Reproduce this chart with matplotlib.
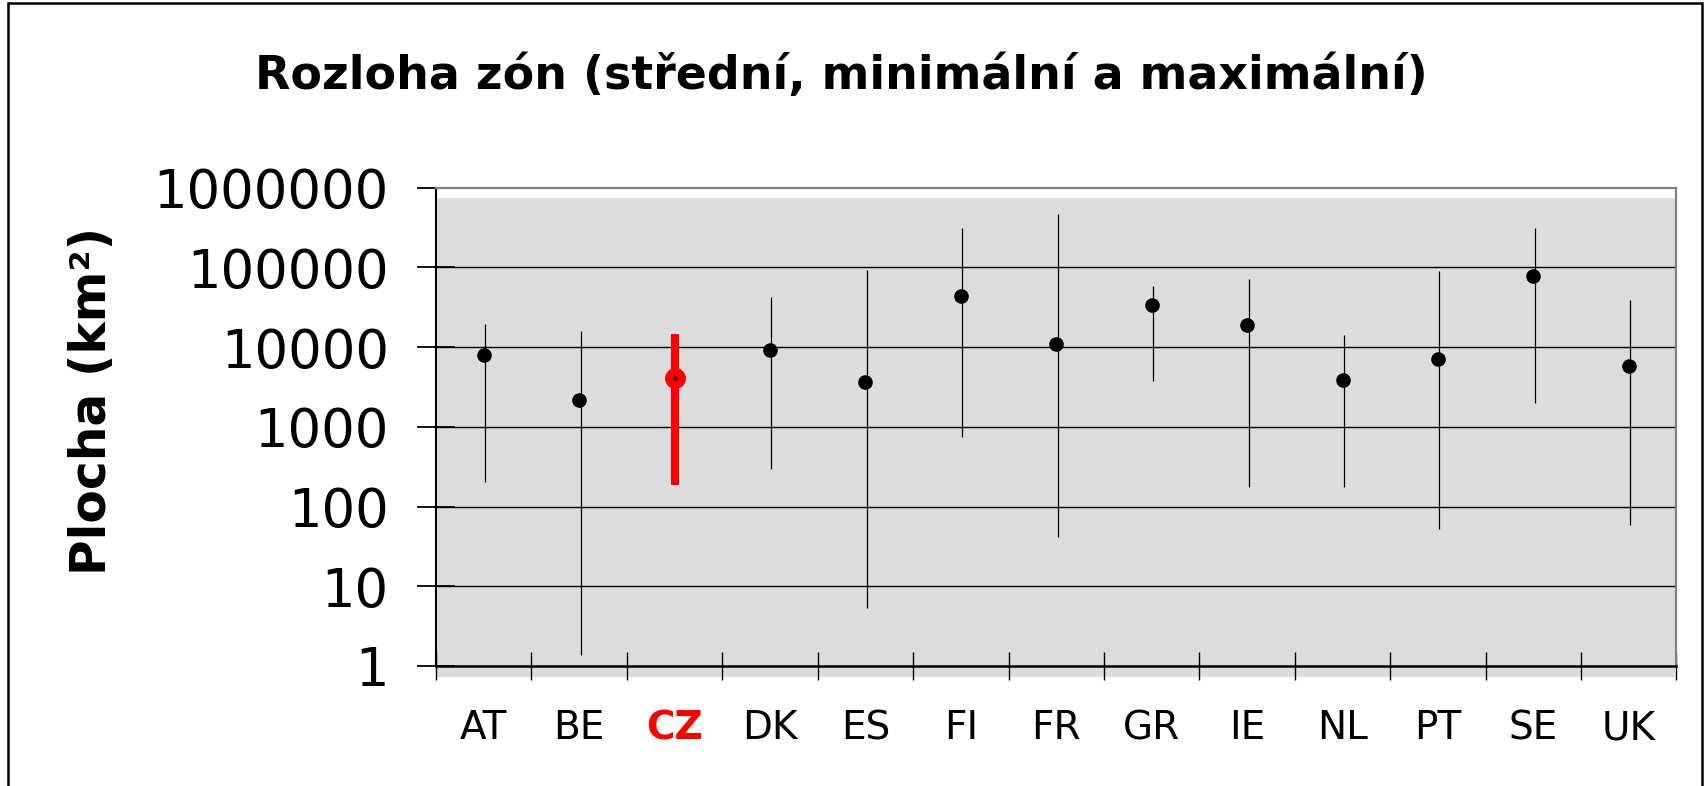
import matplotlib
matplotlib.use("Agg")
import matplotlib.pyplot as plt
from matplotlib.patches import Rectangle
from matplotlib.ticker import FixedLocator, FuncFormatter, NullFormatter

# zone areas per country (km2): mean, minimum, maximum
countries = ["AT", "BE", "CZ", "DK", "ES", "FI", "FR", "GR", "IE", "NL", "PT", "SE", "UK"]
mean_area = [8000, 2200, 4100, 9100, 3700, 43600, 11000, 33400, 18700, 3900, 7100, 78900, 5800]
min_area = [204, 1.36, 186, 295, 5.4, 746, 41, 3800, 177, 177, 52, 1970, 59]
max_area = [19500, 15800, 14500, 42500, 91500, 316000, 469000, 59000, 70600, 14000, 90800, 316000, 39000]
highlight = "CZ"

W, H = 1704, 786
fig = plt.figure(figsize=(W / 100, H / 100), dpi=100)

ax = fig.add_axes([436 / W, 1 - 666 / H, (1676.5 - 436) / W, (666 - 187.7) / H])
ax.set_facecolor("none")
ax.set_yscale("log")
ax.set_ylim(1, 1e6)
ax.set_xlim(-0.5, len(countries) - 0.5)

# grey plot area (Excel draws it a bit lower than the axis)
ax.add_patch(Rectangle((436 / W, 1 - 676.7 / H), (1675 - 436) / W, (676.7 - 197.7) / H,
                       transform=fig.transFigure, facecolor="#dcdcdc", edgecolor="none",
                       zorder=0, clip_on=False))
# outer chart border
fig.patches.append(Rectangle((7.5 / W, -0.1), (1701.5 - 7.5) / W, 1.1 - 2.5 / H,
                             transform=fig.transFigure, facecolor="none", edgecolor="black",
                             linewidth=1.8, zorder=5))

# gridlines
for v in [10, 100, 1000, 10000, 100000]:
    ax.axhline(v, color="black", linewidth=1.0, zorder=1)

for s in ["top", "right"]:
    ax.spines[s].set_color("#808080")
    ax.spines[s].set_linewidth(1.6)
ax.spines["left"].set_linewidth(1.5)
ax.spines["bottom"].set_linewidth(1.8)

x = list(range(len(countries)))
for i, c in enumerate(countries):
    if c == highlight:
        ax.vlines(i, min_area[i], max_area[i], color="red", linewidth=5.8, zorder=3)
        ax.plot(i, mean_area[i], "o", color="red", markersize=14, zorder=4)
        ax.plot(i, mean_area[i], "o", color="black", markersize=2, zorder=5)
    else:
        ax.vlines(i + 0.015, min_area[i], max_area[i], color="black", linewidth=0.9, zorder=3)
        ax.plot(i, mean_area[i], "o", color="black", markersize=9.5, zorder=4)

# y ticks
ax.yaxis.set_major_locator(FixedLocator([1, 10, 100, 1000, 10000, 100000, 1000000]))
ax.yaxis.set_minor_formatter(NullFormatter())
ax.yaxis.set_minor_locator(FixedLocator([]))
ax.yaxis.set_major_formatter(FuncFormatter(lambda v, p: "%d" % round(v)))
ax.tick_params(axis="y", which="major", direction="inout", length=28, width=1.3,
               labelsize=38, pad=20, colors="black")

# x ticks: marks at category boundaries, labels at centres
ax.xaxis.set_major_locator(FixedLocator([i - 0.5 for i in range(len(countries) + 1)]))
ax.xaxis.set_major_formatter(NullFormatter())
ax.xaxis.set_minor_locator(FixedLocator(x))
ax.xaxis.set_minor_formatter(FuncFormatter(lambda v, p: countries[int(round(v))]))
ax.tick_params(axis="x", which="major", direction="inout", length=20, width=1.0)
ax.tick_params(axis="x", which="minor", length=0, labelsize=28, pad=31)
for lab in ax.xaxis.get_minorticklabels():
    if lab.get_text() == highlight:
        lab.set_color("red")
        lab.set_fontweight("bold")

fig.text(841 / W, 1 - 76 / H, "Rozloha zón (střední, minimální a maximální)",
         ha="center", va="center", fontsize=33, fontweight="bold")
fig.text(92 / W, 1 - 401 / H, "Plocha (km²)", rotation=90, ha="center", va="center",
         fontsize=35, fontweight="bold")

fig.savefig("out.png", dpi=100)
